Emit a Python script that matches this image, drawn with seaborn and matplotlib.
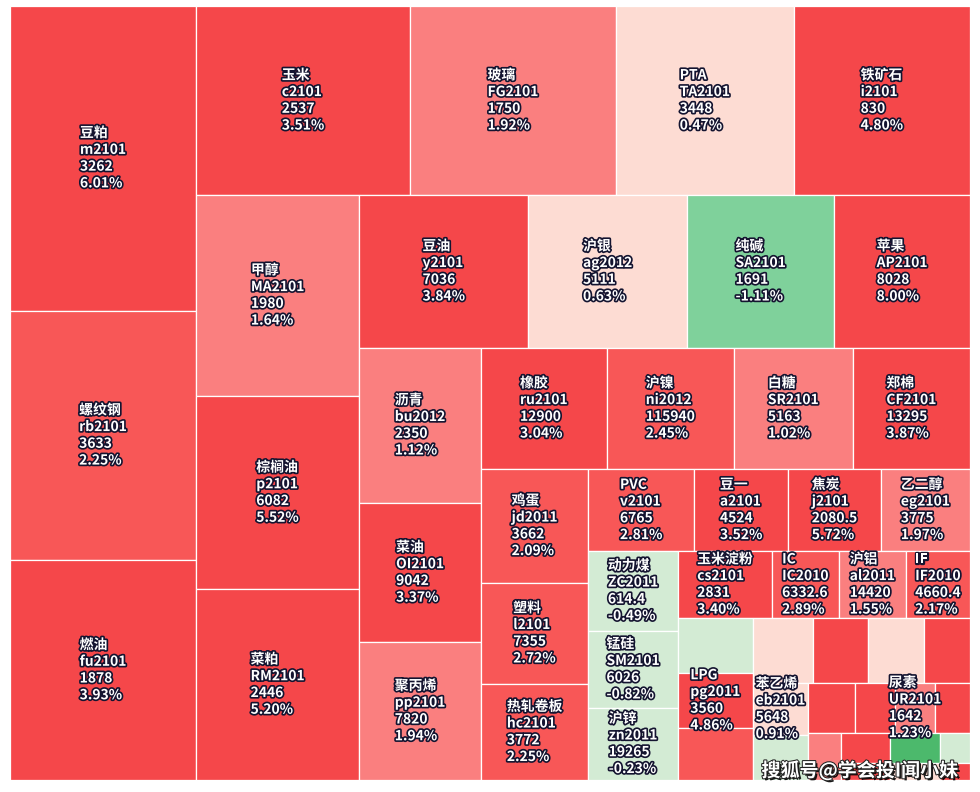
import seaborn as sns
import matplotlib.pyplot as plt
import matplotlib.patheffects as pe
from matplotlib.patches import Rectangle

sns.set_theme(style='white')
plt.rcParams['font.family'] = ['Noto Sans CJK SC', 'DejaVu Sans']

# futures contracts, in the order the treemap lays them out
names = ['豆粕', '螺纹钢', '燃油', '玉米', '玻璃', 'PTA', '铁矿石', '甲醇', '棕榈油', '菜粕',
         '豆油', '沪银', '纯碱', '苹果', '沥青', '菜油', '聚丙烯', '橡胶', '沪镍', '白糖',
         '郑棉', '鸡蛋', '塑料', '热轧卷板', 'PVC', '豆一', '焦炭', '乙二醇', '动力煤', '锰硅',
         '沪锌', '玉米淀粉', 'IC', '沪铝', 'IF', '', 'LPG', '', '', '',
         '', '', '苯乙烯', '', '', '', '尿素', '', '', '',
         '', '', '', '', '']
codes = ['m2101', 'rb2101', 'fu2101', 'c2101', 'FG2101', 'TA2101', 'i2101', 'MA2101', 'p2101', 'RM2101',
         'y2101', 'ag2012', 'SA2101', 'AP2101', 'bu2012', 'OI2101', 'pp2101', 'ru2101', 'ni2012', 'SR2101',
         'CF2101', 'jd2011', 'l2101', 'hc2101', 'v2101', 'a2101', 'j2101', 'eg2101', 'ZC2011', 'SM2101',
         'zn2011', 'cs2101', 'IC2010', 'al2011', 'IF2010', '', 'pg2011', '', '', '',
         '', '', 'eb2101', '', '', '', 'UR2101', '', '', '',
         '', '', '', '', '']
prices = ['3262', '3633', '1878', '2537', '1750', '3448', '830', '1980', '6082', '2446',
          '7036', '5111', '1691', '8028', '2350', '9042', '7820', '12900', '115940', '5163',
          '13295', '3662', '7355', '3772', '6765', '4524', '2080.5', '3775', '614.4', '6026',
          '19265', '2831', '6332.6', '14420', '4660.4', '', '3560', '', '', '',
          '', '', '5648', '', '', '', '1642', '', '', '',
          '', '', '', '', '']
pct = [6.01, 2.25, 3.93, 3.51, 1.92, 0.47, 4.80, 1.64, 5.52, 5.20,
       3.84, 0.63, -1.11, 8.00, 1.12, 3.37, 1.94, 3.04, 2.45, 1.02,
       3.87, 2.09, 2.72, 2.25, 2.81, 3.52, 5.72, 1.97, -0.49, -0.82,
       -0.23, 3.40, 2.89, 1.55, 2.17, -0.4, 4.86, 2.5, 0.5, 3.5,
       0.5, 3.5, 0.91, -0.4, 3.5, 3.2, 1.23, 3.5, 1.5, 3.5,
       -2.5, -0.4, 3.5, 0.5, 3.5]
# block size (relative weight)
weight = [56.7, 46.5, 40.9, 40.4, 38.9, 33.6, 33.3, 32.8, 31.5, 31.1,
          25.9, 24.3, 22.5, 20.8, 18.9, 17.0, 16.8, 15.2, 15.4, 14.4,
          14.2, 12.2, 10.8, 10.3, 8.7, 7.7, 7.6, 7.3, 7.2, 6.9,
          6.5, 6.3, 4.5, 4.5, 4.3, 4.1, 4.1, 3.9, 3.9, 3.6,
          3.6, 3.0, 2.9, 2.5, 2.35, 2.0, 2.0, 1.75, 1.55, 1.47,
          1.5, 0.9, 0.83, 0.85, 0.5]
# how many blocks go in each strip (columns and rows alternate)
strips = [3, 4, 3, 4, 3, 4, 3, 4, 3, 4, 3, 4, 2, 4, 1, 3, 3]

W, H = 960, 774


def strip_layout(sizes, counts, width, height):
    scale = width * height / sum(sizes)
    areas = [s * scale for s in sizes]
    x0, y0, w, h = 0.0, 0.0, float(width), float(height)
    rects = []
    i = 0
    vertical = True
    for k, n in enumerate(counts):
        grp = areas[i:i + n]
        s = sum(grp)
        if k == len(counts) - 1:
            vertical = h > w
        if vertical:
            cw = s / h
            yy = y0
            for a in grp:
                rects.append((x0, yy, cw, a / cw))
                yy += a / cw
            x0 += cw
            w -= cw
        else:
            rh = s / w
            xx = x0
            for a in grp:
                rects.append((xx, y0, a / rh, rh))
                xx += a / rh
            y0 += rh
            h -= rh
        vertical = not vertical
        i += n
    return rects


def cell_colour(p):
    if p >= 3:
        return '#f5474a'
    if p >= 2:
        return '#f85757'
    if p >= 1:
        return '#fa7f7f'
    if p >= 0:
        return '#fddcd3'
    if p > -1:
        return '#d3ebd4'
    if p > -2:
        return '#7fd19b'
    return '#4cb96c'


fig = plt.figure(figsize=(9.8, 7.92), dpi=100)
ax = fig.add_axes([10 / 980, 12 / 792, W / 980, H / 792])
ax.set_xlim(0, W)
ax.set_ylim(H, 0)
ax.set_axis_off()

outline = [pe.withStroke(linewidth=2.4, foreground='#141430')]
for (x, y, w, h), nm, cd, pr, p in zip(strip_layout(weight, strips, W, H), names, codes, prices, pct):
    ax.add_patch(Rectangle((x, y), w, h, facecolor=cell_colour(p), edgecolor='white', linewidth=0.9))
    if nm:
        label = f'{nm}\n{cd}\n{pr}\n{p:.2f}%'
        ax.text(x + w / 2, y + h / 2, label, ha='center', va='center', multialignment='left',
                fontsize=10, fontweight='bold', color='white', linespacing=1.25,
                path_effects=outline)

fig.text(958 / 980, 1 - 771 / 792, '搜狐号@学会投I闻小妹', ha='right', va='center',
         fontsize=13.7, fontweight='bold', color='white',
         path_effects=[pe.withSimplePatchShadow(offset=(1.5, -1.5), shadow_rgbFace='black', alpha=0.9),
                       pe.withStroke(linewidth=1.5, foreground='#222222')])

fig.savefig('out.png', dpi=100, facecolor='white')
